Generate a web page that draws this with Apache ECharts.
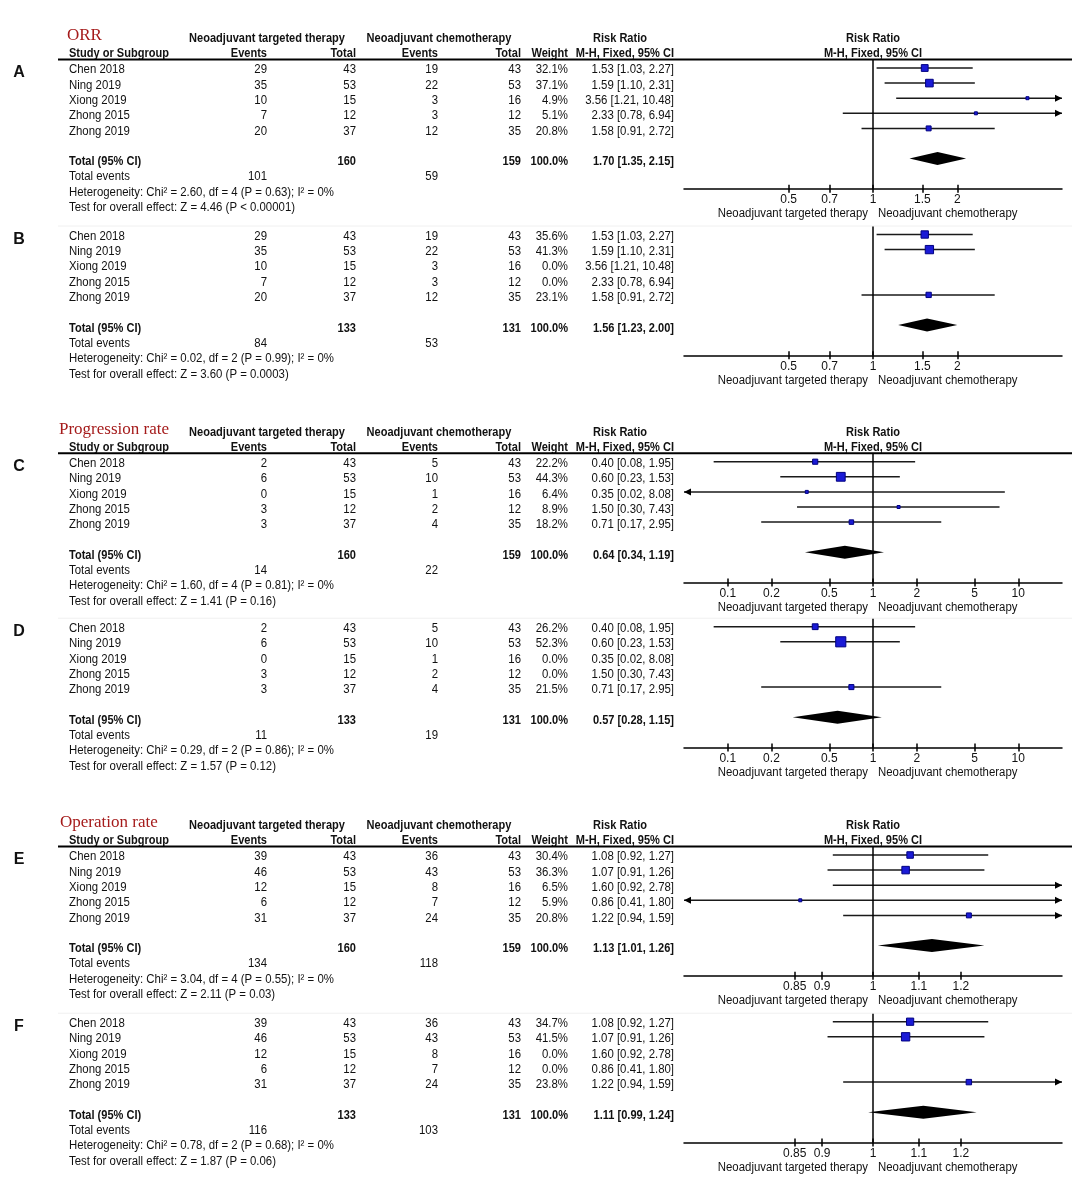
<!DOCTYPE html>
<html><head><meta charset="utf-8">
<script src="https://cdn.jsdelivr.net/npm/echarts@6/dist/echarts.min.js"></script>
<style>html,body{margin:0;padding:0;background:#fff}#c{width:1084px;height:1186px}</style>
</head><body><div id="c"></div>
<script>
// ---------------- DATA ----------------
const studies = ["Chen 2018", "Ning 2019", "Xiong 2019", "Zhong 2015", "Zhong 2019"];
const n1 = [43, 53, 15, 12, 37];
const n2 = [43, 53, 16, 12, 35];

// ORR
const orrEv1 = [29, 35, 10, 7, 20];
const orrEv2 = [19, 22, 3, 3, 12];
const orrRR = [1.53, 1.59, 3.56, 2.33, 1.58];
const orrLo = [1.03, 1.10, 1.21, 0.78, 0.91];
const orrHi = [2.27, 2.31, 10.48, 6.94, 2.72];
const orrWeightA = [32.1, 37.1, 4.9, 5.1, 20.8];
const orrWeightB = [35.6, 41.3, 0.0, 0.0, 23.1];

// Progression rate
const progEv1 = [2, 6, 0, 3, 3];
const progEv2 = [5, 10, 1, 2, 4];
const progRR = [0.40, 0.60, 0.35, 1.50, 0.71];
const progLo = [0.08, 0.23, 0.02, 0.30, 0.17];
const progHi = [1.95, 1.53, 8.08, 7.43, 2.95];
const progWeightC = [22.2, 44.3, 6.4, 8.9, 18.2];
const progWeightD = [26.2, 52.3, 0.0, 0.0, 21.5];

// Operation rate
const opEv1 = [39, 46, 12, 6, 31];
const opEv2 = [36, 43, 8, 7, 24];
const opRR = [1.08, 1.07, 1.60, 0.86, 1.22];
const opLo = [0.92, 0.91, 0.92, 0.41, 0.94];
const opHi = [1.27, 1.26, 2.78, 1.80, 1.59];
const opWeightE = [30.4, 36.3, 6.5, 5.9, 20.8];
const opWeightF = [34.7, 41.5, 0.0, 0.0, 23.8];

// Totals per panel A..F
const panelLetters = ["A", "B", "C", "D", "E", "F"];
const panelTitles = ["ORR", "", "Progression rate", "", "Operation rate", ""];
const totalN1 = [160, 133, 160, 133, 160, 133];
const totalN2 = [159, 131, 159, 131, 159, 131];
const totalRR = [1.70, 1.56, 0.64, 0.57, 1.13, 1.11];
const totalLo = [1.35, 1.23, 0.34, 0.28, 1.01, 0.99];
const totalHi = [2.15, 2.00, 1.19, 1.15, 1.26, 1.24];
const totalEv1 = [101, 84, 14, 11, 134, 116];
const totalEv2 = [59, 53, 22, 19, 118, 103];
const hetText = [
  "Heterogeneity: Chi\u00b2 = 2.60, df = 4 (P = 0.63); I\u00b2 = 0%",
  "Heterogeneity: Chi\u00b2 = 0.02, df = 2 (P = 0.99); I\u00b2 = 0%",
  "Heterogeneity: Chi\u00b2 = 1.60, df = 4 (P = 0.81); I\u00b2 = 0%",
  "Heterogeneity: Chi\u00b2 = 0.29, df = 2 (P = 0.86); I\u00b2 = 0%",
  "Heterogeneity: Chi\u00b2 = 3.04, df = 4 (P = 0.55); I\u00b2 = 0%",
  "Heterogeneity: Chi\u00b2 = 0.78, df = 2 (P = 0.68); I\u00b2 = 0%"
];
const testText = [
  "Test for overall effect: Z = 4.46 (P < 0.00001)",
  "Test for overall effect: Z = 3.60 (P = 0.0003)",
  "Test for overall effect: Z = 1.41 (P = 0.16)",
  "Test for overall effect: Z = 1.57 (P = 0.12)",
  "Test for overall effect: Z = 2.11 (P = 0.03)",
  "Test for overall effect: Z = 1.87 (P = 0.06)"
];

// Axis ranges and tick labels
const orrRange = [1 / 4.73, 4.73];
const progRange = [0.05, 20];
const opRange = [1 / 1.48, 1.48];
const orrTicks = ["0.5", "0.7", "1", "1.5", "2"];
const progTicks = ["0.1", "0.2", "0.5", "1", "2", "5", "10"];
const opTicks = ["0.85", "0.9", "1", "1.1", "1.2"];
const favoursLeft = "Neoadjuvant targeted therapy";
const favoursRight = "Neoadjuvant chemotherapy";

// ---------------- LAYOUT ----------------
const panelBase = [68, 234.5, 461.7, 626.7, 855, 1021.7];
const titleX = [67, 0, 59, 0, 60, 0];
const ROW = 15.1;      // forest row spacing
const TROW = 15.3;     // table row spacing
const FONT = 'Arial, "Liberation Sans", sans-serif';
const SX = 0.95;       // horizontal text scale (regular)
const SXB = 0.92;      // horizontal text scale (bold)
const GL = 684, GW = 378;

const panels = [
  {ev1: orrEv1, ev2: orrEv2, rr: orrRR, lo: orrLo, hi: orrHi, w: orrWeightA, range: orrRange, ticks: orrTicks, header: true},
  {ev1: orrEv1, ev2: orrEv2, rr: orrRR, lo: orrLo, hi: orrHi, w: orrWeightB, range: orrRange, ticks: orrTicks, header: false},
  {ev1: progEv1, ev2: progEv2, rr: progRR, lo: progLo, hi: progHi, w: progWeightC, range: progRange, ticks: progTicks, header: true},
  {ev1: progEv1, ev2: progEv2, rr: progRR, lo: progLo, hi: progHi, w: progWeightD, range: progRange, ticks: progTicks, header: false},
  {ev1: opEv1, ev2: opEv2, rr: opRR, lo: opLo, hi: opHi, w: opWeightE, range: opRange, ticks: opTicks, header: true},
  {ev1: opEv1, ev2: opEv2, rr: opRR, lo: opLo, hi: opHi, w: opWeightF, range: opRange, ticks: opTicks, header: false}
];

const graphics = [];
function txt(x, y, s, opt) {
  opt = opt || {};
  graphics.push({
    type: 'text', x: x, y: y, scaleX: opt.sx || (opt.bold ? SXB : SX), silent: true,
    style: {
      text: s, font: (opt.bold ? 'bold ' : '') + (opt.size || 12) + 'px ' + (opt.family || FONT),
      fill: opt.color || '#111', textAlign: opt.align || 'left', textVerticalAlign: 'middle'
    }
  });
}
function hline(x1, x2, y, w, c) {
  graphics.push({type: 'line', silent: true, shape: {x1: x1, y1: y, x2: x2, y2: y}, style: {stroke: c || '#000', lineWidth: w || 1.5}});
}
const ci = (r, l, h) => r.toFixed(2) + " [" + l.toFixed(2) + ", " + h.toFixed(2) + "]";

const grids = [], xAxes = [], yAxes = [], series = [];

panels.forEach((p, i) => {
  const b = panelBase[i];
  const ty = b + 2;
  txt(19, ty + 3, panelLetters[i], {bold: true, size: 16, align: 'center', sx: 1});
  if (p.header) {
    txt(titleX[i], b - 32, panelTitles[i], {size: 17, family: '"Liberation Serif", "Times New Roman", serif', color: '#a51b1b', sx: 1});
    txt(267, b - 29, "Neoadjuvant targeted therapy", {bold: true, align: 'center'});
    txt(439, b - 29, "Neoadjuvant chemotherapy", {bold: true, align: 'center'});
    txt(620, b - 29, "Risk Ratio", {bold: true, align: 'center'});
    txt(873, b - 29, "Risk Ratio", {bold: true, align: 'center'});
    txt(69, b - 14, "Study or Subgroup", {bold: true});
    txt(267, b - 14, "Events", {bold: true, align: 'right'});
    txt(356, b - 14, "Total", {bold: true, align: 'right'});
    txt(438, b - 14, "Events", {bold: true, align: 'right'});
    txt(521, b - 14, "Total", {bold: true, align: 'right'});
    txt(568, b - 14, "Weight", {bold: true, align: 'right'});
    txt(674, b - 14, "M-H, Fixed, 95% CI", {bold: true, align: 'right'});
    txt(873, b - 14, "M-H, Fixed, 95% CI", {bold: true, align: 'center'});
    hline(58, 1072, b - 8.5, 2, '#000');
  } else {
    hline(58, 1072, b - 8.5, 1, '#f0f0f0');
  }
  studies.forEach((s, k) => {
    const y = ty + k * TROW;
    txt(69, y, s);
    txt(267, y, String(p.ev1[k]), {align: 'right'});
    txt(356, y, String(n1[k]), {align: 'right'});
    txt(438, y, String(p.ev2[k]), {align: 'right'});
    txt(521, y, String(n2[k]), {align: 'right'});
    txt(568, y, p.w[k].toFixed(1) + "%", {align: 'right'});
    txt(674, y, ci(p.rr[k], p.lo[k], p.hi[k]), {align: 'right'});
  });
  const yT = ty + 6 * TROW;
  txt(69, yT, "Total (95% CI)", {bold: true});
  txt(356, yT, String(totalN1[i]), {bold: true, align: 'right'});
  txt(521, yT, String(totalN2[i]), {bold: true, align: 'right'});
  txt(568, yT, "100.0%", {bold: true, align: 'right'});
  txt(674, yT, ci(totalRR[i], totalLo[i], totalHi[i]), {bold: true, align: 'right'});
  txt(69, ty + 7 * TROW, "Total events");
  txt(267, ty + 7 * TROW, String(totalEv1[i]), {align: 'right'});
  txt(438, ty + 7 * TROW, String(totalEv2[i]), {align: 'right'});
  txt(69, ty + 8 * TROW, hetText[i]);
  txt(69, ty + 9 * TROW, testText[i]);
  const axisY = b + 8 * ROW;
  txt(868, axisY + 25, favoursLeft, {align: 'right'});
  txt(878, axisY + 25, favoursRight, {align: 'left'});

  grids.push({left: GL, top: b - 8, width: GW, height: 8 + 8 * ROW});
  const xmin = Math.log(p.range[0]), xmax = Math.log(p.range[1]);
  const tv = p.ticks.map(t => Math.log(parseFloat(t)));
  const fmt = v => { for (let j = 0; j < tv.length; j++) if (Math.abs(tv[j] - v) < 1e-6) return p.ticks[j]; return ''; };
  xAxes.push({
    gridIndex: i, type: 'value', min: xmin, max: xmax, position: 'bottom',
    axisLine: {show: true, onZero: false, lineStyle: {color: '#000', width: 1.5}},
    axisTick: {show: true, customValues: tv, length: 4, lineStyle: {color: '#000', width: 1.5}},
    axisLabel: {customValues: tv, formatter: fmt, fontSize: 12, color: '#111', margin: 5, fontFamily: FONT},
    splitLine: {show: false}
  });
  xAxes.push({
    gridIndex: i, type: 'value', min: xmin, max: xmax, position: 'bottom', offset: 0,
    axisLine: {show: false, onZero: false},
    axisTick: {show: true, inside: true, customValues: tv, length: 4, lineStyle: {color: '#000', width: 1.5}},
    axisLabel: {show: false}, splitLine: {show: false}
  });
  yAxes.push({gridIndex: i, type: 'value', inverse: true, min: -8 / ROW, max: 8, show: false});

  const sdata = [];
  studies.forEach((s, k) => {
    if (p.w[k] > 0) sdata.push([Math.log(p.lo[k]), Math.log(p.hi[k]), Math.log(p.rr[k]), k, p.w[k]]);
  });
  series.push({
    type: 'custom', xAxisIndex: 2 * i, yAxisIndex: i, data: sdata, silent: true, z: 3,
    renderItem: function (params, api) {
      const lo = api.value(0), hi = api.value(1), rr = api.value(2), row = api.value(3), w = api.value(4);
      const cs = params.coordSys;
      const left = cs.x, right = cs.x + cs.width;
      const pLo = api.coord([lo, row]), pHi = api.coord([hi, row]), pR = api.coord([rr, row]);
      const y = pR[1];
      const x1 = Math.max(pLo[0], left), x2 = Math.min(pHi[0], right);
      const ch = [];
      ch.push({type: 'line', shape: {x1: x1, y1: y, x2: x2, y2: y}, style: {stroke: '#1a1a1a', lineWidth: 1.5}});
      if (pLo[0] < left) ch.push({type: 'polygon', shape: {points: [[left, y], [left + 7, y - 3.5], [left + 7, y + 3.5]]}, style: {fill: '#000'}});
      if (pHi[0] > right) ch.push({type: 'polygon', shape: {points: [[right, y], [right - 7, y - 3.5], [right - 7, y + 3.5]]}, style: {fill: '#000'}});
      if (pR[0] >= left && pR[0] <= right) {
        const sz = Math.max(3, 1.5 + 0.165 * w);
        ch.push({type: 'rect', shape: {x: pR[0] - sz / 2, y: y - sz / 2, width: sz, height: sz}, style: {fill: '#1a1ad6', stroke: '#000080', lineWidth: 1}});
      }
      return {type: 'group', children: ch};
    },
    markLine: {silent: true, symbol: 'none', label: {show: false}, animation: false,
      lineStyle: {color: '#000', width: 1.5, type: 'solid'}, data: [{xAxis: 0}]}
  });
  series.push({
    type: 'custom', xAxisIndex: 2 * i, yAxisIndex: i, silent: true, z: 3,
    data: [[Math.log(totalLo[i]), Math.log(totalHi[i]), Math.log(totalRR[i]), 6]],
    renderItem: function (params, api) {
      const a = api.coord([api.value(0), api.value(3)]);
      const c = api.coord([api.value(1), api.value(3)]);
      const m = api.coord([api.value(2), api.value(3)]);
      const h = 6.5;
      return {type: 'polygon', shape: {points: [[a[0], a[1]], [m[0], m[1] - h], [c[0], c[1]], [m[0], m[1] + h]]}, style: {fill: '#000'}};
    }
  });
});

const chart = echarts.init(document.getElementById('c'), null, {renderer: 'canvas'});
chart.setOption({
  animation: false,
  backgroundColor: '#fff',
  grid: grids, xAxis: xAxes, yAxis: yAxes, series: series,
  graphic: {elements: graphics}
});
</script></body></html>
